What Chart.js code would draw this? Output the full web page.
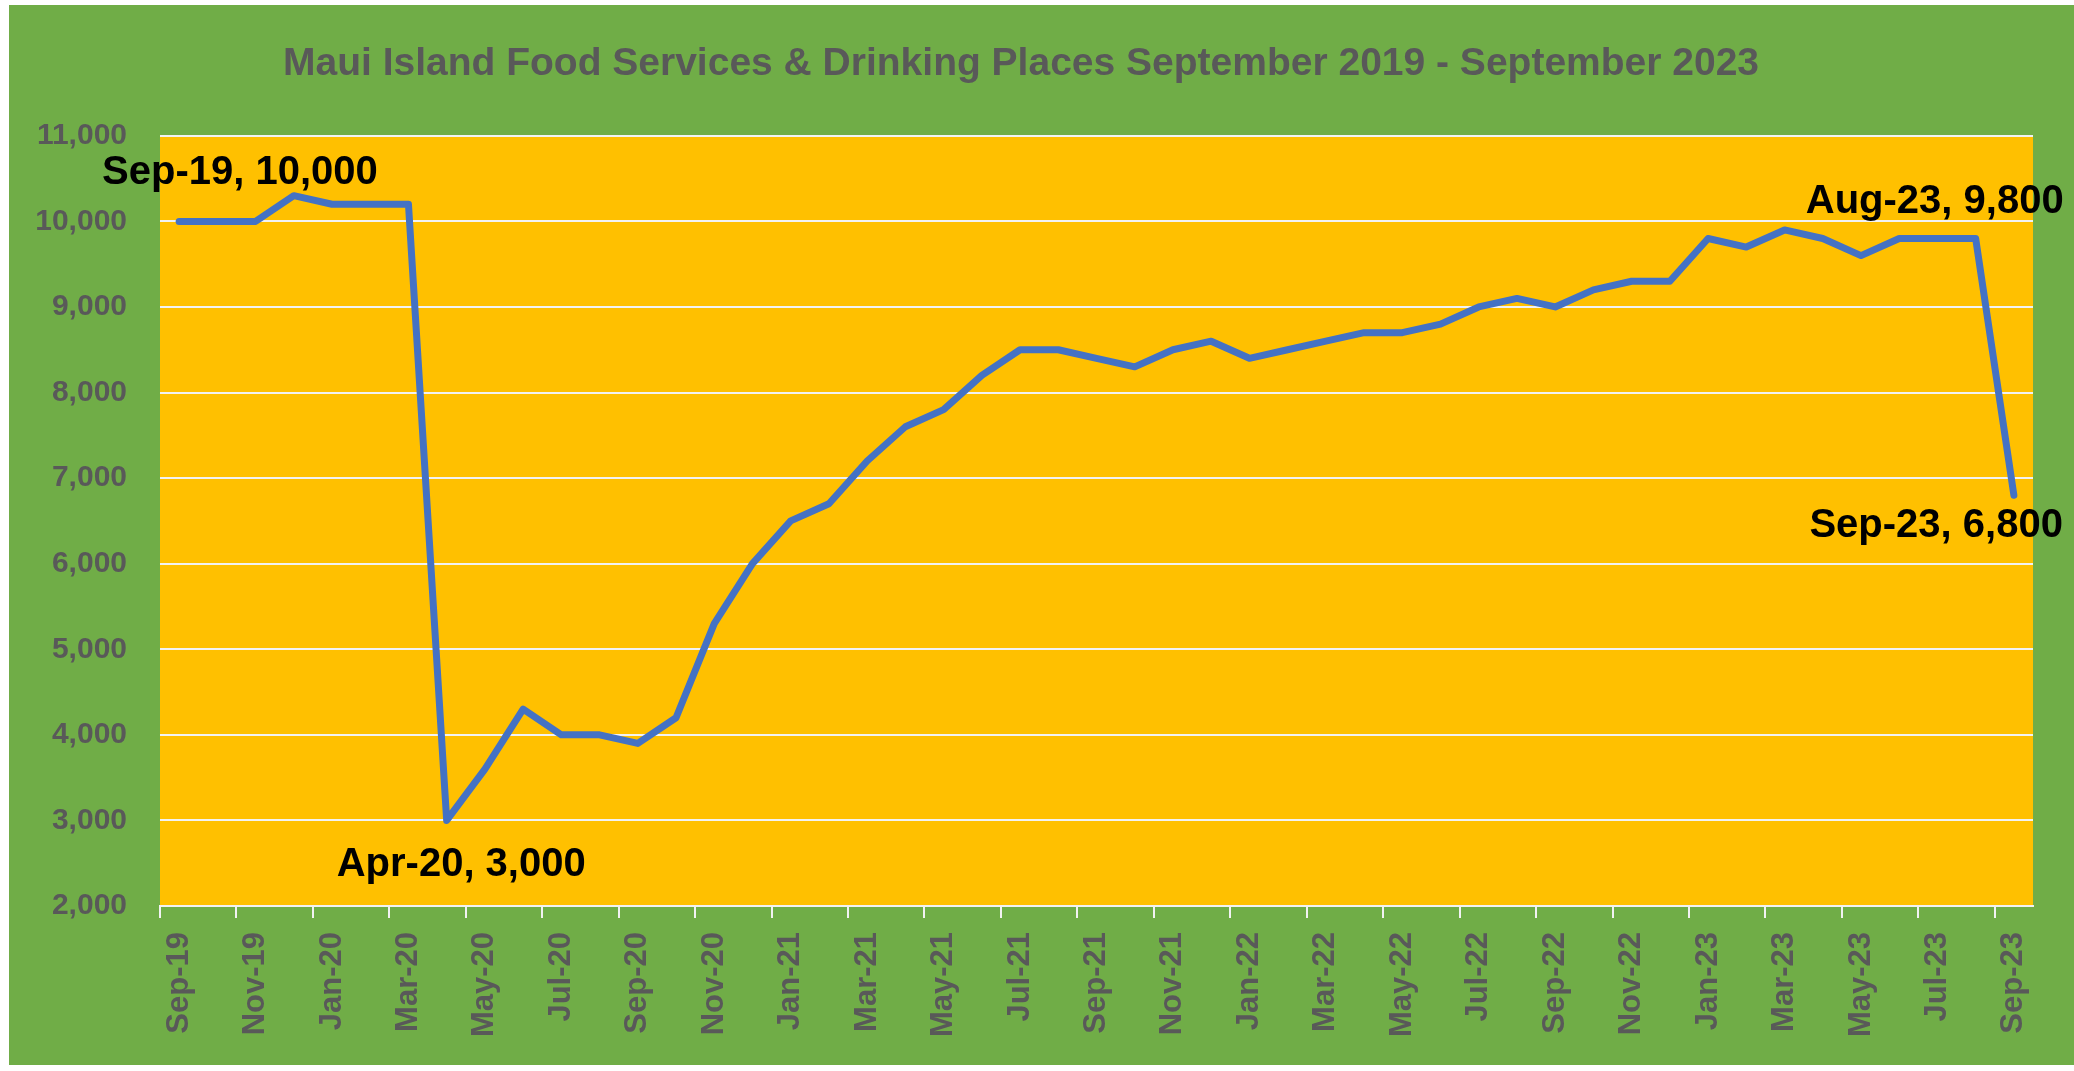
<!DOCTYPE html>
<html>
<head>
<meta charset="utf-8">
<script src="https://cdn.jsdelivr.net/npm/chart.js@4.4.0/dist/chart.umd.min.js"></script>
<style>
html, body { margin: 0; padding: 0; background: #ffffff; }
#myChart { position: absolute; left: 9px; top: 5px; background: #70AD47; }
</style>
</head>
<body>
<canvas id="myChart" width="2065" height="1060"></canvas>
<script>
const MONTHS = [
    "Sep-19", "Oct-19", "Nov-19", "Dec-19",
    "Jan-20", "Feb-20", "Mar-20", "Apr-20", "May-20", "Jun-20", "Jul-20", "Aug-20", "Sep-20", "Oct-20", "Nov-20", "Dec-20",
    "Jan-21", "Feb-21", "Mar-21", "Apr-21", "May-21", "Jun-21", "Jul-21", "Aug-21", "Sep-21", "Oct-21", "Nov-21", "Dec-21",
    "Jan-22", "Feb-22", "Mar-22", "Apr-22", "May-22", "Jun-22", "Jul-22", "Aug-22", "Sep-22", "Oct-22", "Nov-22", "Dec-22",
    "Jan-23", "Feb-23", "Mar-23", "Apr-23", "May-23", "Jun-23", "Jul-23", "Aug-23", "Sep-23"
];

const JOBS = [
    10000, 10000, 10000, 10300,
    10200, 10200, 10200, 3000, 3600, 4300, 4000, 4000, 3900, 4200, 5300, 6000,
    6500, 6700, 7200, 7600, 7800, 8200, 8500, 8500, 8400, 8300, 8500, 8600,
    8400, 8500, 8600, 8700, 8700, 8800, 9000, 9100, 9000, 9200, 9300, 9300,
    9800, 9700, 9900, 9800, 9600, 9800, 9800, 9800, 6800
];

const LABELLED = ["Sep-19", "Apr-20", "Aug-23", "Sep-23"]; // points that get a data label

const Y_MIN = 2000;
const Y_MAX = 11000;
const Y_STEP = 1000;

const TITLE = "Maui Island Food Services & Drinking Places September 2019 - September 2023";

// where each data label sits relative to its point (style only)
const labelPlace = {
    "Sep-19": { dx: -77, dy: -48, align: "left" },
    "Apr-20": { dx: -110, dy: 45, align: "left" },
    "Aug-23": { dx: 88, dy: -37, align: "right" },
    "Sep-23": { dx: 49, dy: 31, align: "right" }
};

const FONT = "'Liberation Sans', Arial, sans-serif";
const GREY = "#595959";

const plotBackground = { // paint the orange plot area
    id: "plotBackground",
    beforeDraw(chart){
        const a = chart.chartArea;
        const ctx = chart.ctx;
        ctx.save();
        ctx.fillStyle = "#FFC000";
        ctx.fillRect(a.left, a.top, a.right - a.left, a.bottom - a.top);
        ctx.restore();
    }
};

const pointLabels = { // "Sep-19, 10,000" style labels
    id: "pointLabels",
    afterDatasetsDraw(chart){
        const ctx = chart.ctx;
        const meta = chart.getDatasetMeta(0);
        ctx.save();
        ctx.font = "bold 40px " + FONT;
        ctx.fillStyle = "#000000";
        ctx.textBaseline = "middle";
        LABELLED.forEach(function(m){
            let i = MONTHS.indexOf(m);
            let pt = meta.data[i];
            let p = labelPlace[m];
            ctx.textAlign = p.align;
            ctx.fillText(m + ", " + JOBS[i].toLocaleString("en-US"), pt.x + p.dx, pt.y + p.dy);
        });
        ctx.restore();
    }
};

const CTX = document.getElementById("myChart").getContext("2d");
const CONFIG = {
    type: "line",
    data: {
        labels: MONTHS,
        datasets: [{
            label: "Food Services & Drinking Places",
            data: JOBS,
            borderColor: "#4472C4",
            borderWidth: 7,
            pointRadius: 0,
            tension: 0,
            fill: false,
            borderCapStyle: "round",
            borderJoinStyle: "round"
        }]
    },
    options: {
        responsive: false,
        animation: false,
        layout: { padding: { left: 0, right: 41, top: 0, bottom: 0 } },
        plugins: {
            legend: { display: false },
            tooltip: { enabled: false },
            title: {
                display: true,
                text: TITLE,
                color: GREY,
                font: { family: FONT, size: 39, weight: "bold", lineHeight: 1.2 },
                padding: { top: 36, bottom: 48 }
            }
        },
        scales: {
            x: {
                offset: true,
                grid: {
                    offset: true,
                    drawOnChartArea: false,
                    drawTicks: true,
                    tickLength: 12,
                    lineWidth: 2,
                    color: function(c){ return c.index % 2 === 0 ? "#F2F2F2" : "rgba(0,0,0,0)"; }
                },
                border: { display: true, color: "#F2F2F2", width: 2 },
                ticks: {
                    autoSkip: false,
                    maxRotation: 90,
                    minRotation: 90,
                    padding: 14,
                    color: GREY,
                    font: { family: FONT, size: 31, weight: "bold" },
                    callback: function(v, i){ return i % 2 === 0 ? MONTHS[i] : ""; }
                },
                afterFit: function(s){ s.height = 159; }
            },
            y: {
                min: Y_MIN,
                max: Y_MAX,
                grid: { color: "#F2F2F2", lineWidth: 2, drawTicks: false },
                border: { display: false },
                ticks: {
                    stepSize: Y_STEP,
                    padding: 33,
                    color: GREY,
                    font: { family: FONT, size: 30, weight: "bold" },
                    callback: function(v){ return v.toLocaleString("en-US"); }
                },
                afterFit: function(s){ s.width = 151; }
            }
        }
    },
    plugins: [plotBackground, pointLabels]
};
var myChart = new Chart(CTX, CONFIG);
</script>
</body>
</html>
